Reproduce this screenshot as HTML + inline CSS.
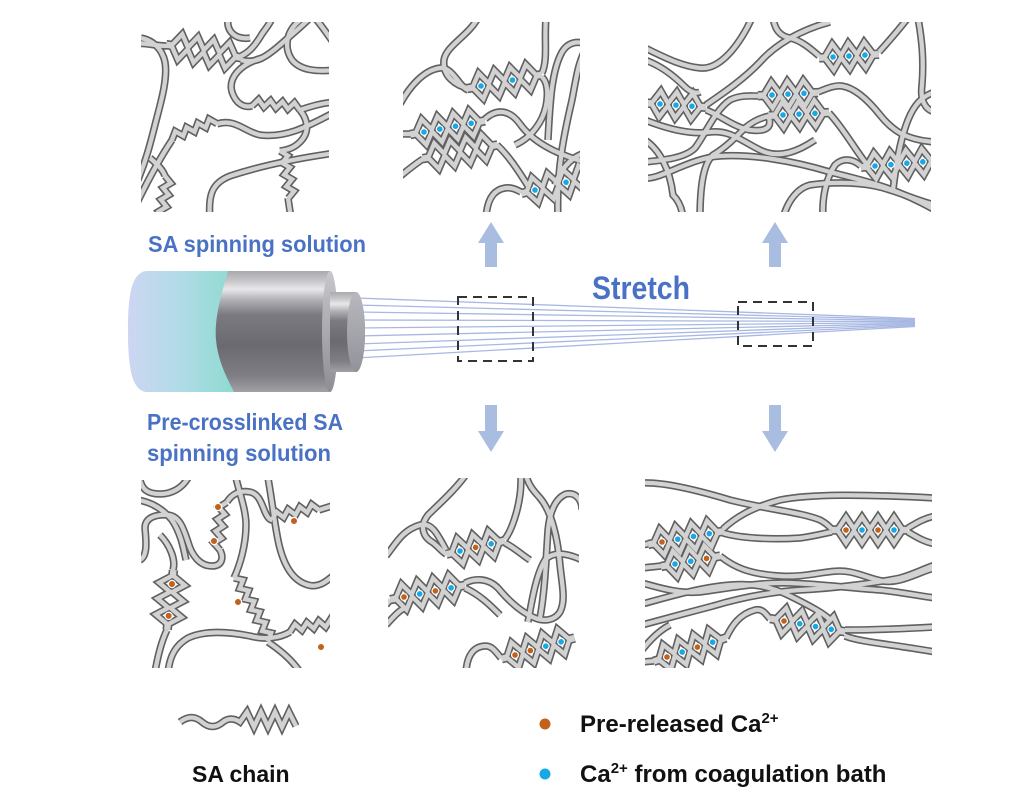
<!DOCTYPE html>
<html><head><meta charset="utf-8"><style>
html,body{margin:0;padding:0;background:#fff;}
svg{display:block;}
.bt{font-family:"Liberation Sans",Arial,sans-serif;font-weight:bold;fill:#4a72c4;}
.lt{font-family:"Liberation Sans",Arial,sans-serif;font-weight:bold;fill:#111;}
</style></head><body>
<svg width="1024" height="803" viewBox="0 0 1024 803" xmlns="http://www.w3.org/2000/svg">
<defs>
<linearGradient id="liq" x1="0" y1="0" x2="1" y2="0">
<stop offset="0" stop-color="#cdd6f2"/><stop offset="0.45" stop-color="#b3dbe8"/><stop offset="1" stop-color="#8edbd1"/>
</linearGradient>
<linearGradient id="met" x1="0" y1="0" x2="0" y2="1">
<stop offset="0" stop-color="#a9a9ae"/><stop offset="0.08" stop-color="#c6c6ca"/><stop offset="0.15" stop-color="#e8e8ea"/><stop offset="0.24" stop-color="#b0b0b5"/><stop offset="0.36" stop-color="#7a7a80"/><stop offset="0.62" stop-color="#6a6a70"/><stop offset="0.86" stop-color="#7d7d83"/><stop offset="1" stop-color="#a0a0a5"/>
</linearGradient>
<linearGradient id="rim" x1="0" y1="0" x2="0" y2="1">
<stop offset="0" stop-color="#c9c9cd"/><stop offset="0.3" stop-color="#b4b4b9"/><stop offset="1" stop-color="#8e8e94"/>
</linearGradient>
<linearGradient id="face" x1="0" y1="0" x2="0" y2="1">
<stop offset="0" stop-color="#b8b8be"/><stop offset="1" stop-color="#92929a"/>
</linearGradient>
<clipPath id="cTL"><rect x="141" y="22" width="188" height="190"/></clipPath>
<clipPath id="cTM"><rect x="403" y="22" width="177" height="190"/></clipPath>
<clipPath id="cTR"><rect x="648" y="22" width="283" height="190"/></clipPath>
<clipPath id="cBL"><rect x="141" y="480" width="189" height="188"/></clipPath>
<clipPath id="cBM"><rect x="388" y="478" width="191" height="190"/></clipPath>
<clipPath id="cBR"><rect x="645" y="478" width="287" height="190"/></clipPath>

<path id="e4" d="M-14,-1 L-8,-1 L0,-13 L8,-1 L16,-13 L24,-1 L32,-13 L40,-1 L48,-13 L56,-1 L62,-1 M-14,1 L-8,1 L0,13 L8,1 L16,13 L24,1 L32,13 L40,1 L48,13 L56,1 L62,1"/>
<path id="e3" d="M-14,-1 L-8,-1 L0,-13 L8,-1 L16,-13 L24,-1 L32,-13 L40,-1 L46,-1 M-14,1 L-8,1 L0,13 L8,1 L16,13 L24,1 L32,13 L40,1 L46,1"/>
<path id="z4" d="M0,0 L6,-7 L12,0 L18,-7 L24,0 L30,-7 L36,0 L42,-7 L48,0"/>
<path id="z6" d="M0,0 L6,-7 L12,0 L18,-7 L24,0 L30,-7 L36,0 L42,-7 L48,0 L54,-7 L60,0 L66,-7 L72,0"/>

<g id="gTL">
<path d="M141,38 C152,40 162,48 165,62 C168,80 160,105 155,125 C150,145 146,160 138,180"/>
<use href="#e4" transform="translate(180,47) rotate(10)"/>
<path d="M130,44 C145,42 155,46 167,46"/>
<path d="M241,56 C250,52 256,44 262,34 C266,28 270,24 272,18"/>
<path d="M241,60 C255,64 265,58 280,45 C290,36 300,28 310,18"/>
<path d="M228,18 C226,32 236,40 250,38"/>
<path d="M303,18 C288,28 282,45 292,60 C300,70 315,72 335,70"/>
<path d="M315,18 C322,26 330,38 335,45"/>
<path d="M262,58 C240,64 228,78 232,92 C236,104 244,108 252,106"/>
<use href="#z4" transform="translate(252,106) rotate(5)"/>
<path d="M300,110 C312,106 322,103 335,102"/>
<path d="M136,205 C148,180 160,158 172,140"/>
<use href="#z4" transform="translate(172,140) rotate(-20)"/>
<path d="M217,124 C235,118 245,132 260,135 C285,138 305,128 335,112"/>
<path d="M210,218 C208,195 212,183 230,176 C260,166 300,158 335,153"/>
<path d="M300,110 C308,120 310,132 300,142 C293,149 286,150 280,151"/>
<use href="#z4" transform="translate(280,151) rotate(80)"/>
<path d="M288,198 L291,218"/>
<path d="M150,158 C158,165 163,170 165,176"/>
<use href="#z4" transform="translate(165,176) rotate(100)"/>
</g>

<g id="gTM">
<use href="#e4" transform="translate(481,86) rotate(-10.6)"/>
<path d="M478,18 C468,36 446,46 444,60 C442,76 456,86 468,88"/>
<path d="M400,104 C410,86 424,70 440,68 C452,66 460,88 468,90"/>
<path d="M542,73 C548,60 544,40 546,18"/>
<path d="M542,77 C550,85 548,105 542,118 C535,132 526,140 515,145"/>
<use href="#e4" transform="translate(424,132) rotate(-10.4)"/>
<use href="#e4" transform="translate(424,132) rotate(-10.4) translate(8,26)"/>
<path d="M485,119 C497,108 510,110 520,124 C530,138 548,152 585,162"/>
<path d="M497,145 C508,155 518,170 528,186"/>
<path d="M398,134 L411,134"/>
<path d="M398,178 C408,170 415,164 423,159"/>
<path d="M558,218 C556,170 565,130 572,100 C576,80 578,60 588,45"/>
<path d="M548,140 C550,100 552,70 562,52 C568,42 578,40 588,45"/>
<path d="M555,185 C562,165 575,155 588,152"/>
<use href="#e4" transform="translate(535,190) rotate(-14)"/>
<path d="M486,218 C487,200 493,190 505,188 C512,187 517,190 521,192"/>
</g>

<g id="gTR">
<use href="#e3" transform="translate(833,57) rotate(-3.5)"/>
<use href="#e3" transform="translate(660,104) rotate(4)"/>
<use href="#e3" transform="translate(772,95) rotate(-3)"/>
<use href="#e3" transform="translate(783,115) rotate(-3)"/>
<use href="#e4" transform="translate(875,166) rotate(-5)"/>
<path d="M645,48 C662,56 680,66 700,68 C718,70 735,50 747,28 L752,18"/>
<path d="M645,60 C662,66 676,78 684,86 C690,92 696,94 700,92"/>
<path d="M706,105 C725,92 745,78 760,62 C775,45 800,30 830,22"/>
<path d="M773,18 C775,30 780,36 790,38 C800,40 810,48 819,56"/>
<path d="M879,52 C890,40 900,28 908,18"/>
<path d="M918,18 C922,40 924,60 922,85 C920,100 925,110 935,112"/>
<path d="M645,162 C665,160 685,158 695,148 C705,135 715,110 730,100 C740,95 750,96 758,96"/>
<path d="M818,92 C828,88 835,85 842,86 C855,88 868,100 880,115 C892,130 905,140 935,142"/>
<path d="M829,113 C845,130 858,155 870,168"/>
<path d="M769,116 C760,118 752,122 745,128 C735,138 725,148 713,155 C705,162 700,180 700,218"/>
<path d="M645,178 C660,180 690,158 720,156 C750,154 790,160 830,172 C860,180 890,185 935,210"/>
<path d="M645,140 C660,150 670,170 673,195 C678,200 682,208 683,218"/>
<path d="M783,218 C788,200 798,188 810,185 C830,182 855,182 875,186 C895,190 915,200 935,205"/>
<path d="M823,218 C822,200 825,180 835,165 C842,158 852,158 861,166"/>
<path d="M893,190 C896,165 900,140 908,120 C914,105 922,96 935,92"/>
<path d="M706,110 C720,115 735,128 750,130 C765,132 772,128 769,118"/>
<path d="M645,120 C665,128 690,135 710,132 C730,130 740,140 760,150 C780,160 800,150 815,140"/>
</g>

<g id="gBL">
<path d="M140,480 C142,488 146,494 160,494 C172,494 182,488 188,478"/>
<path d="M140,560 C148,556 146,540 145,528 C145,518 155,514 168,515 C180,516 184,530 188,542 C192,556 200,566 212,566 C222,566 224,558 220,550"/>
<use href="#z4" transform="translate(220,550) rotate(-82)"/>
<path d="M227,502 C232,494 240,490 250,492 C260,494 262,506 266,514 C268,518 270,520 272,520"/>
<use href="#z4" transform="translate(272,520) rotate(-12)"/>
<path d="M319,510 L335,505"/>
<path d="M138,500 C150,502 162,508 172,520 C180,532 183,545 186,560"/>
<use href="#e3" transform="translate(172,584) rotate(96)"/>
<path d="M173,570 C176,560 170,545 160,535"/>
<path d="M167,630 C162,640 158,655 155,672"/>
<path d="M168,672 C170,655 176,645 188,638 C205,630 230,632 250,636 C265,640 280,638 290,632"/>
<use href="#z4" transform="translate(290,632) rotate(-8)"/>
<path d="M236,478 C240,495 246,510 246,525 C246,545 240,565 234,578"/>
<use href="#z6" transform="translate(234,578) rotate(62)"/>
<path d="M268,642 C280,650 292,660 300,672"/>
<path d="M268,478 C272,500 274,520 278,540 C282,560 290,580 308,585 C318,588 326,582 335,574"/>
</g>

<g id="gBM">
<use href="#e3" transform="translate(460,551) rotate(-13)"/>
<use href="#e4" transform="translate(404,597) rotate(-11)"/>
<use href="#e4" transform="translate(515,655) rotate(-16)"/>
<path d="M465,476 C455,490 438,505 428,515 C420,525 422,536 432,542 C438,546 442,552 446,554"/>
<path d="M386,556 C395,545 402,530 420,525 C432,522 438,535 446,550"/>
<path d="M505,539 C512,530 518,510 520,495 C521,488 521,482 521,476"/>
<path d="M505,543 C515,548 522,555 530,560"/>
<path d="M465,583 C475,578 488,578 498,588 C508,600 520,612 535,618 C545,622 555,620 560,612 C566,600 562,585 560,565 C558,540 552,512 540,498 C535,492 530,488 526,476"/>
<path d="M540,618 C545,590 546,560 548,530 C550,510 556,498 566,494 C576,492 582,500 582,510"/>
<path d="M528,622 C532,600 536,575 545,560 C552,552 565,552 582,560"/>
<path d="M466,672 C467,655 474,646 486,646 C492,646 496,652 501,658"/>
<path d="M386,605 L390,600"/>
<path d="M386,625 C395,615 400,610 405,608"/>
<path d="M465,588 C480,595 490,605 500,615"/>
</g>

<g id="gBR">
<use href="#e4" transform="translate(662,542) rotate(-10)"/>
<use href="#e3" transform="translate(675,564) rotate(-10)"/>
<use href="#e4" transform="translate(846,530)"/>
<use href="#e4" transform="translate(784,621) rotate(10)"/>
<use href="#e4" transform="translate(667,657) rotate(-18)"/>
<path d="M642,483 C660,482 690,488 730,500 C770,510 800,512 820,520 C828,524 830,528 832,529"/>
<path d="M723,529 C735,518 750,508 780,500 C810,494 860,494 935,498"/>
<path d="M723,533 C740,538 770,540 800,538 C815,536 825,533 832,532"/>
<path d="M908,528 C918,522 925,518 935,516"/>
<path d="M908,532 C918,538 925,542 935,544"/>
<path d="M720,556 C735,568 750,574 780,576 C810,578 830,568 850,572 C870,576 880,585 900,580 C915,576 925,570 935,568"/>
<path d="M642,583 C660,588 680,594 700,592 C730,588 760,582 790,583 C820,584 850,588 880,590 C900,592 920,596 935,598"/>
<path d="M642,604 C665,598 690,590 720,586 C750,582 770,586 790,596 C810,606 825,614 830,620"/>
<path d="M642,625 C660,620 690,612 713,606 C740,598 770,592 800,590 C840,588 880,582 900,578 C915,574 925,568 935,565"/>
<path d="M726,638 C732,625 740,614 755,610 C762,608 766,614 770,619"/>
<path d="M845,630 C860,630 880,630 935,627"/>
<path d="M845,636 C860,642 890,644 935,652"/>
<path d="M642,545 L648,544"/>
<path d="M642,568 L661,566"/>
<path d="M642,662 L654,661"/>
<path d="M642,650 C650,640 660,630 670,625"/>
</g>
</defs>

<rect width="1024" height="803" fill="#fff"/>

<!-- panels -->
<g clip-path="url(#cTL)"><use href="#gTL" stroke="#606060" stroke-width="7.5" fill="none"/><use href="#gTL" stroke="#d2d2d2" stroke-width="4.3" fill="none"/></g>
<g clip-path="url(#cTM)"><use href="#gTM" stroke="#606060" stroke-width="7.5" fill="none"/><use href="#gTM" stroke="#d2d2d2" stroke-width="4.3" fill="none"/></g>
<g clip-path="url(#cTR)"><use href="#gTR" stroke="#606060" stroke-width="7.5" fill="none"/><use href="#gTR" stroke="#d2d2d2" stroke-width="4.3" fill="none"/></g>
<g clip-path="url(#cBL)"><use href="#gBL" stroke="#606060" stroke-width="7.5" fill="none"/><use href="#gBL" stroke="#d2d2d2" stroke-width="4.3" fill="none"/></g>
<g clip-path="url(#cBM)"><use href="#gBM" stroke="#606060" stroke-width="7.5" fill="none"/><use href="#gBM" stroke="#d2d2d2" stroke-width="4.3" fill="none"/></g>
<g clip-path="url(#cBR)"><use href="#gBR" stroke="#606060" stroke-width="7.5" fill="none"/><use href="#gBR" stroke="#d2d2d2" stroke-width="4.3" fill="none"/></g>

<!-- ions -->
<g stroke="#fff" stroke-width="1.2">
<g fill="#19a8e6">
<g transform="translate(481,86) rotate(-10.6)"><circle cx="0" r="3.4"/><circle cx="32" r="3.4"/></g>
<g transform="translate(424,132) rotate(-10.4)"><circle cx="0" r="3.4"/><circle cx="16" r="3.4"/><circle cx="32" r="3.4"/><circle cx="48" r="3.4"/></g>
<g transform="translate(535,190) rotate(-14)"><circle cx="0" r="3.4"/><circle cx="32" r="3.4"/></g>
<g transform="translate(833,57) rotate(-3.5)"><circle cx="0" r="3.4"/><circle cx="16" r="3.4"/><circle cx="32" r="3.4"/></g>
<g transform="translate(660,104) rotate(4)"><circle cx="0" r="3.4"/><circle cx="16" r="3.4"/><circle cx="32" r="3.4"/></g>
<g transform="translate(772,95) rotate(-3)"><circle cx="0" r="3.4"/><circle cx="16" r="3.4"/><circle cx="32" r="3.4"/></g>
<g transform="translate(783,115) rotate(-3)"><circle cx="0" r="3.4"/><circle cx="16" r="3.4"/><circle cx="32" r="3.4"/></g>
<g transform="translate(875,166) rotate(-5)"><circle cx="0" r="3.4"/><circle cx="16" r="3.4"/><circle cx="32" r="3.4"/><circle cx="48" r="3.4"/></g>
</g>
<g fill="#c2611c">
<circle cx="218" cy="507" r="3.6"/><circle cx="214" cy="541" r="3.6"/><circle cx="294" cy="521" r="3.6"/><circle cx="238" cy="602" r="3.6"/><circle cx="321" cy="647" r="3.6"/>
<g transform="translate(172,584) rotate(96)"><circle cx="0" r="3.6"/><circle cx="32" r="3.6"/></g>
</g>
<g transform="translate(460,551) rotate(-13)"><circle cx="0" r="3.4" fill="#19a8e6"/><circle cx="16" r="3.4" fill="#c2611c"/><circle cx="32" r="3.4" fill="#19a8e6"/></g>
<g transform="translate(404,597) rotate(-11)"><circle cx="0" r="3.4" fill="#c2611c"/><circle cx="16" r="3.4" fill="#19a8e6"/><circle cx="32" r="3.4" fill="#c2611c"/><circle cx="48" r="3.4" fill="#19a8e6"/></g>
<g transform="translate(515,655) rotate(-16)"><circle cx="0" r="3.4" fill="#c2611c"/><circle cx="16" r="3.4" fill="#c2611c"/><circle cx="32" r="3.4" fill="#19a8e6"/><circle cx="48" r="3.4" fill="#19a8e6"/></g>
<g transform="translate(662,542) rotate(-10)"><circle cx="0" r="3.4" fill="#c2611c"/><circle cx="16" r="3.4" fill="#19a8e6"/><circle cx="32" r="3.4" fill="#19a8e6"/><circle cx="48" r="3.4" fill="#19a8e6"/></g>
<g transform="translate(675,564) rotate(-10)"><circle cx="0" r="3.4" fill="#19a8e6"/><circle cx="16" r="3.4" fill="#19a8e6"/><circle cx="32" r="3.4" fill="#c2611c"/></g>
<g transform="translate(846,530)"><circle cx="0" r="3.4" fill="#c2611c"/><circle cx="16" r="3.4" fill="#19a8e6"/><circle cx="32" r="3.4" fill="#c2611c"/><circle cx="48" r="3.4" fill="#19a8e6"/></g>
<g transform="translate(784,621) rotate(10)"><circle cx="0" r="3.4" fill="#c2611c"/><circle cx="16" r="3.4" fill="#19a8e6"/><circle cx="32" r="3.4" fill="#19a8e6"/><circle cx="48" r="3.4" fill="#19a8e6"/></g>
<g transform="translate(667,657) rotate(-18)"><circle cx="0" r="3.4" fill="#c2611c"/><circle cx="16" r="3.4" fill="#19a8e6"/><circle cx="32" r="3.4" fill="#c2611c"/><circle cx="48" r="3.4" fill="#19a8e6"/></g>
</g>

<!-- arrows -->
<g fill="#a9bde1">
<polygon points="491,222 504,243 497,243 497,267 485,267 485,243 478,243"/>
<polygon points="775,222 788,243 781,243 781,267 769,267 769,243 762,243"/>
<polygon points="485,405 497,405 497,431 504,431 491,452 478,431 485,431"/>
<polygon points="769,405 781,405 781,431 788,431 775,452 762,431 769,431"/>
</g>

<!-- fibers -->
<g stroke="#9fb1e0" stroke-width="1.3" fill="none" opacity="0.9">
<line x1="356" y1="298" x2="915" y2="318.5"/>
<line x1="356" y1="305" x2="915" y2="319.5"/>
<line x1="356" y1="312" x2="915" y2="320.5"/>
<line x1="356" y1="320" x2="915" y2="321.5"/>
<line x1="356" y1="328" x2="915" y2="322.5"/>
<line x1="356" y1="336" x2="915" y2="323.5"/>
<line x1="356" y1="344" x2="915" y2="324.5"/>
<line x1="356" y1="351" x2="915" y2="325.5"/>
<line x1="356" y1="358" x2="915" y2="326.5"/>
</g>

<!-- nozzle -->
<path d="M205,271 L330,271 A8,60.5 0 0 1 330,392 L205,392 Z" fill="url(#met)"/>
<ellipse cx="330" cy="331.5" rx="8" ry="60.5" fill="url(#rim)"/>
<path d="M330,292 L356,292 A9,40 0 0 1 356,372 L330,372 Z" fill="url(#met)"/>
<ellipse cx="356" cy="332" rx="9" ry="40" fill="url(#face)"/>
<path d="M146,271 L228,271 C222,292 214,318 216,340 C218,362 228,380 234,392 L146,392 C133,390 128,372 128,331 C128,290 133,273 146,271 Z" fill="url(#liq)"/>

<!-- dashed boxes -->
<g fill="none" stroke="#333" stroke-width="2" stroke-dasharray="9 6">
<rect x="458" y="297" width="75" height="64"/>
<rect x="738" y="302" width="75" height="44"/>
</g>

<!-- texts -->
<text class="bt" x="148" y="252" font-size="23" textLength="218" lengthAdjust="spacingAndGlyphs">SA spinning solution</text>
<text class="bt" x="592" y="299" font-size="32" textLength="98" lengthAdjust="spacingAndGlyphs">Stretch</text>
<text class="bt" x="147" y="430" font-size="23" textLength="196" lengthAdjust="spacingAndGlyphs">Pre-crosslinked SA</text>
<text class="bt" x="147" y="461" font-size="23" textLength="184" lengthAdjust="spacingAndGlyphs">spinning solution</text>

<!-- legend -->
<path d="M180,722 C188,716 195,716 202,722 C209,728 216,728 223,722 C228,718 234,718 240,722 L247,712 L254,727 L261,712 L268,727 L275,712 L282,727 L289,712 L296,726" fill="none" stroke="#606060" stroke-width="7.5"/>
<path d="M180,722 C188,716 195,716 202,722 C209,728 216,728 223,722 C228,718 234,718 240,722 L247,712 L254,727 L261,712 L268,727 L275,712 L282,727 L289,712 L296,726" fill="none" stroke="#d2d2d2" stroke-width="4.3"/>
<text class="lt" x="192" y="782" font-size="23">SA chain</text>
<circle cx="545" cy="724" r="5.5" fill="#c2611c"/>
<circle cx="545" cy="774" r="5.5" fill="#19a8e6"/>
<text class="lt" x="580" y="732" font-size="24">Pre-released Ca<tspan dy="-9" font-size="15">2+</tspan></text>
<text class="lt" x="580" y="782" font-size="24">Ca<tspan dy="-9" font-size="15">2+</tspan><tspan dy="9"> from coagulation bath</tspan></text>
</svg>
</body></html>
